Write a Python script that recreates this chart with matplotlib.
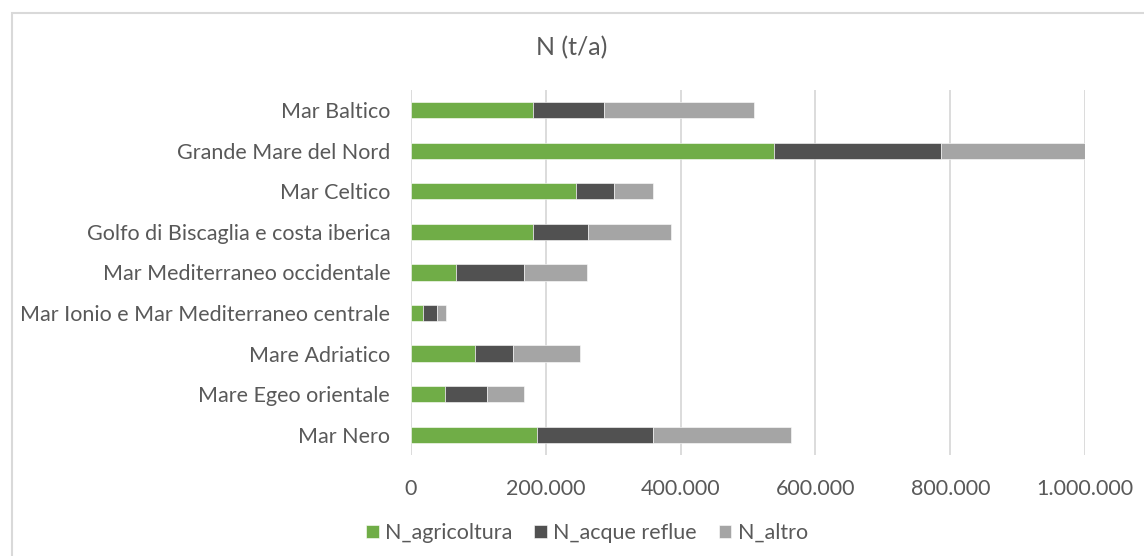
import matplotlib
matplotlib.use("Agg")
import matplotlib.pyplot as plt
from matplotlib.patches import Rectangle
from matplotlib.ticker import FuncFormatter

plt.rcParams["font.family"] = ["Lato", "DejaVu Sans"]

# categories, top to bottom as shown
regions = [
    "Mar Baltico",
    "Grande Mare del Nord",
    "Mar Celtico",
    "Golfo di Biscaglia e costa iberica",
    "Mar Mediterraneo occidentale",
    "Mar Ionio e Mar Mediterraneo centrale",
    "Mare Adriatico",
    "Mare Egeo orientale",
    "Mar Nero",
]
n_agricoltura = [181000, 539000, 245000, 181000, 66000, 18000, 95000, 51000, 187000]
n_acque_reflue = [105000, 247000, 56000, 82000, 101000, 20000, 57000, 61000, 172000]
n_altro = [223000, 215000, 58000, 122000, 94000, 14000, 99000, 56000, 205000]

series = [
    ("N_agricoltura", n_agricoltura, "#70AD47"),
    ("N_acque reflue", n_acque_reflue, "#515151"),
    ("N_altro", n_altro, "#A5A5A5"),
]
xticks = [0, 200000, 400000, 600000, 800000, 1000000]
text_col = "#595959"

fig = plt.figure(figsize=(11.44, 5.56), dpi=100)
ax = fig.add_axes([0.3593, 0.1817, 0.5892, 0.6565])

ypos = list(range(len(regions)))[::-1]
left = [0] * len(regions)
for name, vals, col in series:
    ax.barh(ypos, vals, left=left, height=0.4, color=col, label=name,
            edgecolor="white", linewidth=0.4, zorder=3)
    left = [a + b for a, b in zip(left, vals)]

ax.set_xlim(0, 1000000)
ax.set_ylim(-0.5, len(regions) - 0.5)
ax.set_yticks(ypos)
ax.set_yticklabels(regions)
ax.set_xticks(xticks)
ax.xaxis.set_major_formatter(FuncFormatter(lambda v, p: f"{int(v):,}".replace(",", ".")))
ax.tick_params(axis="y", length=0, pad=15, labelsize=15.5, labelcolor=text_col)
ax.tick_params(axis="x", length=0, pad=17, labelsize=15.5, labelcolor=text_col)
ax.grid(axis="x", color="#D9D9D9", linewidth=1.3, zorder=0)
for s in ax.spines.values():
    s.set_visible(False)

fig.text(0.5, 1 - 48 / 556, "N (t/a)", ha="center", va="center",
         fontsize=18, color=text_col)

fig.legend(loc="center", bbox_to_anchor=(0.513, 1 - 533 / 556), ncol=3,
           frameon=False, fontsize=15.5, labelcolor=text_col,
           handlelength=0.6, handleheight=0.6, handletextpad=0.3,
           columnspacing=1.0)

# outer chart border
fig.patches.append(Rectangle((12 / 1144, -0.1), 1.2, 1 - 13 / 556 + 0.1,
                             transform=fig.transFigure, fill=False,
                             edgecolor="#D9D9D9", linewidth=1.5))

fig.savefig("out.png", dpi=100)
